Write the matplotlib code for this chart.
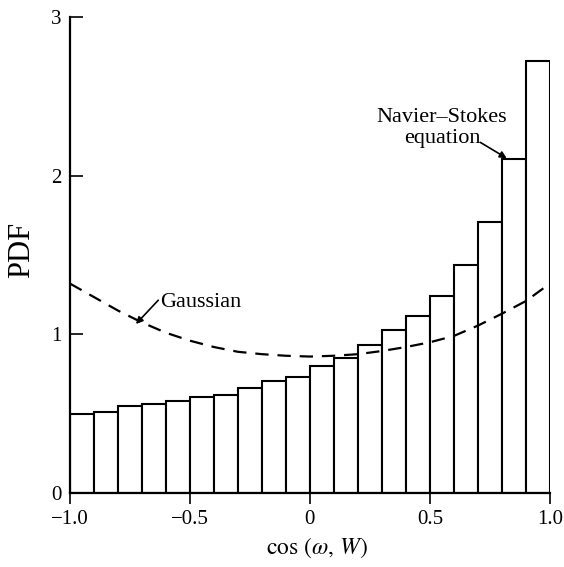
import numpy as np
import matplotlib
matplotlib.use('Agg')
import matplotlib.pyplot as plt

plt.rcParams['font.family'] = ['Liberation Serif', 'DejaVu Serif']
plt.rcParams['mathtext.fontset'] = 'stix'

# histogram bins and PDF values (Navier-Stokes)
bin_edges = np.linspace(-1.0, 1.0, 21)
ns_pdf = [0.50, 0.51, 0.55, 0.56, 0.58, 0.605, 0.62, 0.66, 0.705, 0.73,
          0.80, 0.85, 0.93, 1.03, 1.115, 1.24, 1.435, 1.71, 2.105, 2.72]

# Gaussian reference curve
gauss_x = [-1.0, -0.9, -0.8, -0.7, -0.6, -0.5, -0.4, -0.3, -0.2, -0.1, 0.0,
           0.1, 0.2, 0.3, 0.4, 0.5, 0.6, 0.7, 0.8, 0.9, 1.0]
gauss_y = [1.32, 1.235, 1.15, 1.075, 1.01, 0.96, 0.92, 0.89, 0.875, 0.865, 0.86,
           0.865, 0.875, 0.895, 0.92, 0.95, 0.99, 1.055, 1.13, 1.21, 1.32]

xticks = [-1.0, -0.5, 0.0, 0.5, 1.0]
xtick_labels = ['\u22121.0', '\u22120.5', '0', '0.5', '1.0']
yticks = [0, 1, 2, 3]

fig = plt.figure(figsize=(5.64, 5.67), dpi=100)
ax = fig.add_axes([0.124, 0.1305, 0.851, 0.8395])

widths = np.diff(bin_edges)
ax.bar(bin_edges[:-1], ns_pdf, width=widths, align='edge',
       color='white', edgecolor='black', linewidth=1.5)
ax.plot(gauss_x, gauss_y, color='black', lw=1.6, ls=(0, (6, 4)))

ax.set_xlim(-1.0, 1.0)
ax.set_ylim(0, 3)
for s in ('top', 'right'):
    ax.spines[s].set_visible(False)
for s in ('left', 'bottom'):
    ax.spines[s].set_linewidth(1.6)

ax.set_xticks(xticks)
ax.set_xticklabels(xtick_labels)
ax.set_yticks(yticks)
ax.tick_params(axis='x', direction='out', length=8, width=1.2, labelsize=15, pad=4)
ax.tick_params(axis='y', direction='in', length=9, width=1.2, labelsize=15, pad=6)

# axis labels placed by hand, centred where the reference has them
fig.text(0.562, 0.034, r'$\cos\,(\omega,\,W)$', fontsize=17, ha='center', va='center')
fig.text(0.039, 0.559, 'PDF', fontsize=22, rotation=90, ha='center', va='center')

# annotations
ax.text(0.55, 2.30, 'Navier\u2013Stokes\nequation', ha='center', va='center',
        fontsize=16, linespacing=1.1)
ax.annotate('', xy=(0.82, 2.11), xytext=(0.71, 2.21),
            arrowprops=dict(arrowstyle='-|>', color='black', lw=1.2,
                            mutation_scale=10, shrinkA=0, shrinkB=0))
ax.text(-0.625, 1.20, 'Gaussian', ha='left', va='center', fontsize=16)
ax.annotate('', xy=(-0.725, 1.065), xytext=(-0.632, 1.215),
            arrowprops=dict(arrowstyle='-|>', color='black', lw=1.2,
                            mutation_scale=10, shrinkA=0, shrinkB=0))

fig.savefig('out.png', dpi=100)
